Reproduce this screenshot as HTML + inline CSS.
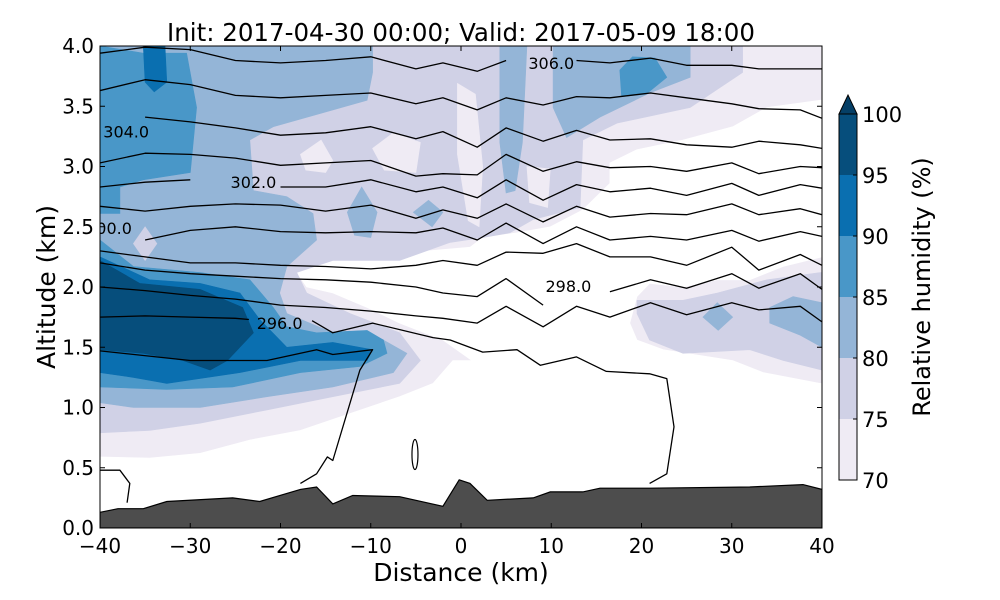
<!DOCTYPE html>
<html><head><meta charset="utf-8">
<style>
html,body{margin:0;padding:0;background:#fff;}
svg{display:block;font-family:"DejaVu Sans","Liberation Sans",sans-serif;}
</style></head>
<body>
<svg id="chart" width="1000" height="600" viewBox="0 0 1000 600" xmlns="http://www.w3.org/2000/svg">
<defs><clipPath id="plotclip"><rect x="100" y="46" width="722" height="482"/></clipPath></defs>
<rect x="0" y="0" width="1000" height="600" fill="#fff"/>
<text x="461" y="41" text-anchor="middle" font-size="24.5">Init: 2017-04-30 00:00; Valid: 2017-05-09 18:00</text>
<g id="fills" clip-path="url(#plotclip)"></g>
<g id="lines" clip-path="url(#plotclip)"></g>
<g id="terrain" clip-path="url(#plotclip)"></g>
<g id="clabels" clip-path="url(#plotclip)"></g>
<rect x="100" y="46" width="722" height="482" fill="none" stroke="#000" stroke-width="1"/>
<g id="axes"></g>
<text x="461" y="581" text-anchor="middle" font-size="25">Distance (km)</text>
<text transform="translate(55,287) rotate(-90)" text-anchor="middle" font-size="25">Altitude (km)</text>
<g id="cbar"></g>
<text transform="translate(930,287) rotate(-90)" text-anchor="middle" font-size="24">Relative humidity (%)</text>
</svg>
<script>
const NS='http://www.w3.org/2000/svg';
// ---- data ----
const rhLevels=[70,75,80,85,90,95];
const rhColors=['#efebf4','#d0d1e6','#94b5d7','#4997c8','#0a6fb0','#064e7c'];
const xTicks=[-40,-30,-20,-10,0,10,20,30,40];
const yTicks=[0.0,0.5,1.0,1.5,2.0,2.5,3.0,3.5,4.0];
const cbTicks=[70,75,80,85,90,95,100];
const terrainKm=[-40,-38,-35.2,-32.6,-25.3,-22.3,-17.8,-16,-14.2,-12,-6.8,-2,-0.2,1.0,2.9,8.0,9.9,13.5,15.4,20.9,32,37.9,40];
const terrainAlt=[0.13,0.16,0.16,0.22,0.25,0.22,0.32,0.34,0.20,0.27,0.26,0.18,0.40,0.37,0.23,0.25,0.30,0.30,0.33,0.33,0.34,0.36,0.32];
const rh70=[[[-40,4],[40,4],[40,0],[-40,0]]];
const rhBelow70=[[[-40,0.59],[-34.5,0.58],[-28.9,0.62],[-23.4,0.73],[-17.8,0.81],[-12.3,0.95],[-6.8,1.09],[-3.1,1.20],[-0.9,1.39],[1.2,1.39],[-2.0,1.56],[-6.8,1.70],[-10.4,1.83],[-14.2,1.95],[-17.1,2.00],[-18.2,2.12],[-17.1,2.28],[-14.2,2.33],[-10.4,2.33],[-6.8,2.28],[1.0,2.33],[2.4,2.41],[6.2,2.45],[9.9,2.50],[13.5,2.64],[16.5,2.86],[16.5,3.03],[19.5,3.14],[24.6,3.22],[30.1,3.33],[33.9,3.49],[39.8,3.55],[40,3.55],[40,2.25],[35.7,2.17],[32.0,2.06],[28.4,2.06],[24.6,2.00],[20.9,2.03],[19.5,1.92],[18.7,1.70],[19.5,1.56],[22.4,1.48],[30.1,1.39],[33.5,1.29],[39.8,1.20],[40,1.20],[40,0],[-40,0]]];
const rh75=[[[-40,4],[31.2,4],[31.2,3.78],[25.4,3.49],[17.3,3.36],[13.5,3.22],[13.2,2.66],[8.0,2.56],[5.4,2.45],[2.4,2.41],[-1.2,2.37],[-6.8,2.22],[-14.2,2.22],[-18.2,2.12],[-17.1,1.95],[-12.3,1.78],[-6.8,1.62],[-4.5,1.39],[-6.8,1.20],[-14.2,1.09],[-21.5,0.98],[-28.9,0.87],[-34.5,0.81],[-40,0.79]],
 [[19.5,1.89],[24.6,1.89],[28.4,1.95],[33.9,2.06],[39.8,2.12],[40,2.12],[40,1.31],[35.7,1.39],[32.0,1.48],[24.6,1.45],[20.9,1.56],[19.5,1.78]]];
const rh70Patches=[[[-0.4,3.69],[1.6,3.60],[2.4,3.0],[2.0,2.50],[0.8,2.55],[-0.4,3.1]],
 [[7.3,3.0],[9.9,2.98],[9.6,2.66],[7.6,2.70]],
 [[-17.8,3.10],[-15.5,3.22],[-14.2,3.05],[-15.0,2.95],[-17.2,2.97]],
 [[-9.8,3.15],[-7.5,3.28],[-4.5,3.20],[-5.0,2.95],[-8.5,2.97]]];
const rh80=[[[-40,4],[-9.8,4],[-9.8,3.78],[-10.4,3.55],[-14.2,3.47],[-20.8,3.33],[-23.4,3.22],[-23.0,2.80],[-19.3,2.75],[-16.4,2.61],[-16.0,2.39],[-19.3,2.17],[-20.1,1.95],[-19.3,1.78],[-14.2,1.62],[-8.6,1.56],[-6.0,1.45],[-7.5,1.29],[-14.2,1.17],[-21.5,1.09],[-28.9,1.00],[-36.3,1.00],[-40,1.04]],
 [[4.3,4],[7.3,4],[6.8,3.2],[6.0,2.80],[5.0,2.78],[4.3,3.2]],
 [[10.2,4],[25.4,4],[25.4,3.74],[20.9,3.61],[15.4,3.41],[11.7,3.24],[10.2,3.49]],
 [[-12.6,2.62],[-11.0,2.83],[-9.3,2.62],[-10.0,2.41],[-11.8,2.43]],
 [[-5.3,2.62],[-3.6,2.72],[-2.0,2.62],[-3.2,2.50]],
 [[26.8,1.75],[28.4,1.87],[30.1,1.75],[28.5,1.64]],
 [[34.2,1.83],[36.8,1.92],[40,1.87],[40,1.50],[37.6,1.60],[34.2,1.70]]];
const rh75Patches=[[[-36.3,2.36],[-35.0,2.50],[-33.7,2.36],[-35.0,2.22]]];
const rh85=[[[-40,4],[-35.2,3.94],[-30.4,3.94],[-29.3,3.49],[-30.0,2.95],[-35.2,2.89],[-37.8,2.83],[-37.8,2.61],[-40,2.61]],
 [[-40,2.39],[-36.3,2.17],[-28.9,2.12],[-23.4,2.06],[-20.8,1.83],[-19.3,1.67],[-16.0,1.62],[-10.4,1.64],[-8.6,1.56],[-8.2,1.45],[-11.2,1.34],[-17.8,1.29],[-25.3,1.17],[-32.6,1.15],[-40,1.17]],
 [[17.6,3.80],[19.0,3.91],[21.5,3.90],[22.8,3.74],[20.5,3.60],[17.8,3.58]]];
const rh90=[[[-35.2,4],[-32.8,4],[-32.6,3.70],[-34,3.62],[-35,3.70]],
 [[-40,2.25],[-34.5,2.06],[-28.9,2.03],[-24.5,1.95],[-22.3,1.73],[-19.3,1.50],[-14.2,1.54],[-9.8,1.48],[-10.4,1.39],[-17.8,1.39],[-24.5,1.29],[-32.6,1.20],[-36.3,1.25],[-40,1.29]]];
const rh95=[[[-40,2.22],[-35.6,2.03],[-28.9,1.98],[-24.2,1.83],[-23.0,1.62],[-25.9,1.39],[-27.8,1.31],[-30.8,1.39],[-35.2,1.45],[-40,1.48]]];
const thetaGrid=[-40,-35,-30,-25,-20,-15,-10,-5,-2,1.8,5,9.1,12.8,16.5,21,25,30,33,37.6,40];
const theta1=[3.94,3.99,3.97,3.88,3.86,3.88,3.91,3.81,3.86,3.79,3.88,null,3.88,3.86,3.90,3.84,3.84,3.81,3.81,3.81];
const theta2=[3.63,3.72,3.68,3.59,3.57,3.59,3.61,3.52,3.57,3.47,3.57,3.51,3.58,3.57,3.61,3.57,3.52,3.48,3.47,3.40];
const theta3=[null,3.41,3.37,3.32,3.26,3.28,3.33,3.23,3.29,3.16,3.32,3.21,3.30,3.22,3.23,3.18,3.16,3.21,3.18,3.15];
const theta4=[3.03,3.11,3.10,3.07,3.01,3.03,3.05,2.92,2.94,2.93,3.10,2.96,3.04,2.99,3.00,2.96,3.03,2.94,3.00,2.99];
const theta5=[2.83,2.87,2.89,null,2.83,2.83,2.89,2.79,2.83,2.74,2.89,2.72,2.85,2.79,2.82,2.76,2.86,2.76,2.85,2.82];
const theta6=[2.67,2.63,2.67,2.69,2.68,2.63,2.68,2.57,2.64,2.57,2.69,2.54,2.67,2.58,2.61,2.60,2.69,2.60,2.65,2.60];
const theta7=[null,2.39,2.47,2.50,2.46,2.45,2.46,2.45,2.49,2.39,2.53,2.36,2.50,2.39,2.42,2.39,2.47,2.38,2.46,2.42];
const theta8=[2.30,2.25,2.20,2.20,2.18,2.17,2.15,2.18,2.22,2.18,2.29,2.28,2.36,2.25,2.25,2.18,2.33,2.14,2.27,2.18];
const theta9=[2.20,2.14,2.11,2.09,2.07,2.06,2.04,2.00,1.95,1.92,2.07,1.85,null,1.96,2.06,1.99,2.11,1.99,2.11,1.98];
const theta10=[2.00,1.97,1.93,1.90,1.85,1.83,1.80,1.76,1.74,1.70,1.84,1.67,1.84,1.75,1.87,1.77,1.87,1.81,1.84,1.71];
const theta296=[[-40,1.75],[-35,1.76],[-30,1.75],[-25,1.74],[-23.5,1.73],null,[-16.5,1.72],[-14.2,1.62],[-9.8,1.70],[-3.1,1.58],[-1.2,1.56],[2.4,1.46],[6.2,1.48],[8.8,1.35],[12.8,1.42],[16.1,1.30],[20.9,1.28],[22.8,1.24],[23.6,0.84],[22.8,0.45],[20.9,0.37]];
const theta294=[[-40,1.47],[-30,1.39],[-21.5,1.39],[-16,1.48],[-14.2,1.44],[-9.8,1.48],[-11.2,1.31],[-14.2,0.56],[-14.8,0.59],[-16,0.45],[-17.8,0.37]];
const thetaSmall=[[-40,0.48],[-37.8,0.48],[-36.7,0.37],[-37,0.21]];
const labelText=['306.0','304.0','302.0','300.0','298.0','296.0'];
const labelKm=[10.0,-37.1,-23.0,-39.0,11.9,-20.1];
const labelAlt=[3.86,3.29,2.87,2.49,2.01,1.70];
// ---- axis functions ----
const X=k=>100+(k+40)*722/80;
const Y=a=>528-a*482/4;
const CB=v=>480-(v-70)*366/30;
function el(tag,attrs,parent){const e=document.createElementNS(NS,tag);for(const k in attrs)e.setAttribute(k,attrs[k]);parent.appendChild(e);return e;}
function polyStr(p){return p.map(q=>X(q[0]).toFixed(1)+','+Y(q[1]).toFixed(1)).join(' ');}
const fills=document.getElementById('fills');
function drawPolys(polys,color,name){polys.forEach(p=>{const e=el('polygon',{points:polyStr(p),fill:color,stroke:color,'stroke-width':0.6},fills);

});}
drawPolys(rh70,rhColors[0],'rh-70-75-region');
drawPolys(rhBelow70,'#ffffff','rh-below-70-region');
drawPolys(rh75,rhColors[1],'rh-75-80-region');
drawPolys(rh70Patches,rhColors[0],'rh-70-75-patch');
drawPolys(rh80,rhColors[2],'rh-80-85-region');
drawPolys(rh75Patches,rhColors[1],'rh-75-80-patch');
drawPolys(rh85,rhColors[3],'rh-85-90-region');
drawPolys(rh90,rhColors[4],'rh-90-95-region');
drawPolys(rh95,rhColors[5],'rh-95-100-region');
// isentropes
const lines=document.getElementById('lines');
function drawPath(pts,name){let d='',pen=false;pts.forEach(p=>{if(!p){pen=false;return;}d+=(pen?'L':'M')+X(p[0]).toFixed(1)+','+Y(p[1]).toFixed(1);pen=true;});
const e=el('path',{d:d,fill:'none',stroke:'#000','stroke-width':1.3,'stroke-linejoin':'round'},lines);

}
[theta1,theta2,theta3,theta4,theta5,theta6,theta7,theta8,theta9,theta10].forEach((arr,i)=>{
  drawPath(arr.map((a,j)=>a===null?null:[thetaGrid[j],a]),'isentrope-'+(i+1));});
drawPath(theta296,'isentrope-296');
drawPath(theta294,'isentrope-294');
drawPath(thetaSmall,'isentrope-small-left');
const ell=el('ellipse',{cx:X(-5.1),cy:Y(0.61),rx:3,ry:15,fill:'none',stroke:'#000','stroke-width':1.2},lines);


// terrain
const tg=document.getElementById('terrain');
const tp=terrainKm.map((k,i)=>[k,terrainAlt[i]]).concat([[40,0],[-40,0]]);
const terr=el('polygon',{points:polyStr(tp),fill:'#4d4d4d',stroke:'#000','stroke-width':1.2},tg);


// contour labels
const cl=document.getElementById('clabels');
labelText.forEach((t,i)=>{const e=el('text',{x:X(labelKm[i]),y:Y(labelAlt[i])+6,'text-anchor':'middle','font-size':16},cl);e.textContent=t;

});
// axes
const ax=document.getElementById('axes');
xTicks.forEach(v=>{const x=X(v);
 el('line',{x1:x,y1:528,x2:x,y2:523,stroke:'#000'},ax);el('line',{x1:x,y1:46,x2:x,y2:51,stroke:'#000'},ax);
 const t=el('text',{x:x,y:553,'text-anchor':'middle','font-size':20},ax);t.textContent=(v<0?'\u2212'+(-v):''+v);
 
 });
yTicks.forEach(v=>{const y=Y(v);
 el('line',{x1:100,y1:y,x2:105,y2:y,stroke:'#000'},ax);el('line',{x1:822,y1:y,x2:817,y2:y,stroke:'#000'},ax);
 const t=el('text',{x:94,y:y+7,'text-anchor':'end','font-size':20},ax);t.textContent=v.toFixed(1);
 
 });
// colorbar
const cb=document.getElementById('cbar');
rhLevels.forEach((lv,i)=>{const r=el('rect',{x:839,y:CB(lv+5),width:18,height:CB(lv)-CB(lv+5),fill:rhColors[i]},cb);
 
 });
const tri=el('polygon',{points:'839,'+CB(100)+' 857,'+CB(100)+' 848,95',fill:'#053f66',stroke:'#000','stroke-width':1},cb);


el('rect',{x:839,y:CB(100),width:18,height:CB(70)-CB(100),fill:'none',stroke:'#000','stroke-width':1},cb);
cbTicks.forEach(v=>{const y=CB(v);el('line',{x1:853,y1:y,x2:857,y2:y,stroke:'#000'},cb);
 const t=el('text',{x:862,y:y+8,'font-size':21},cb);t.textContent=v;
 
 });
</script>
</body></html>
